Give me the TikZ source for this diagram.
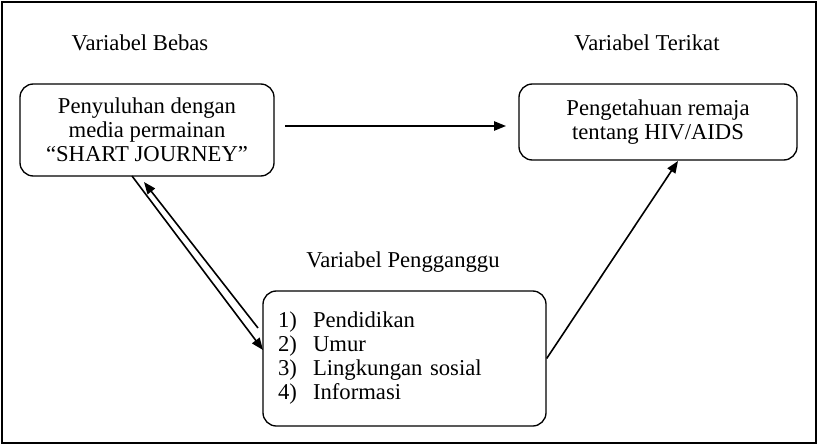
\documentclass[tikz,border=0pt]{standalone}
\usepackage{fontspec}
\setmainfont{Liberation Serif}
\usetikzlibrary{arrows.meta}

\tikzset{
  varbox/.style={draw, line width=1pt, rounded corners=10pt, align=center, inner sep=0pt},
  varlabel/.style={inner sep=0pt},
  arr/.style={line width=1.2pt, -{Triangle[length=9pt,width=7pt]}}
}

\begin{document}
\begin{tikzpicture}[x=0.75pt,y=-0.75pt,font=\fontsize{17}{18}\selectfont]
	%frame
	\draw[line width=1.5pt] (2,2) rectangle (816,443);
	\useasboundingbox (0,0) rectangle (820,446);

	%labels
	\node[varlabel] (lbebas) at (140,43) {Variabel Bebas};
	\node[varlabel] (lterikat) at (647,43) {Variabel Terikat};
	\node[varlabel] (lganggu) at (403,262) {Variabel Pengganggu};

	%boxes
	\node[varbox, minimum width=190.5pt, minimum height=69pt] (bebas) at (147,130)
	  {Penyuluhan dengan\\media permainan\\“SHART JOURNEY”};
	\node[varbox, minimum width=208.5pt, minimum height=57pt] (terikat) at (658,122)
	  {Pengetahuan remaja\\tentang HIV/AIDS};
	\node[varbox, minimum width=212.25pt, minimum height=101.25pt, text width=189.75pt,
	  align=left] (ganggu) at (404.5,358.5)
	  {\makebox[26.25pt][l]{1)}Pendidikan\\
	   \makebox[26.25pt][l]{2)}Umur\\
	   \makebox[26.25pt][l]{3)}Lingkungan sosial\\
	   \makebox[26.25pt][l]{4)}Informasi};

	%free ends
	\coordinate (h1) at (285,126);
	\coordinate (h2) at (506,126);
	\coordinate (dtop) at (132,176);
	\coordinate (dbot) at (263,350);
	\coordinate (utop) at (144,182);
	\coordinate (ubot) at (258,328);
	\coordinate (rtip) at (678,161);

	%arrows
	\draw[arr] (h1) -- (h2); %bebas to terikat
	\draw[arr] (dtop) -- (dbot); %bebas to ganggu
	\draw[arr] (ubot) -- (utop); %ganggu to bebas
	\draw[arr] (ganggu.east) -- (rtip); %ganggu to terikat
\end{tikzpicture}
\end{document}
